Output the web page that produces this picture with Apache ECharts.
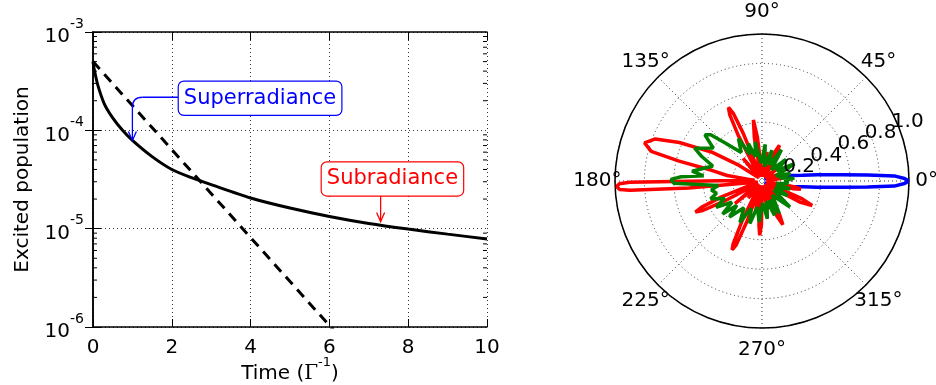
<!DOCTYPE html>
<html lang="en">
<head>
<meta charset="UTF-8">
<title>Excited population / radiation pattern</title>
<script src="https://cdn.jsdelivr.net/npm/echarts@6/dist/echarts.min.js"></script>
<style>
  html, body { margin: 0; padding: 0; background: #fff; }
  #main { width: 936px; height: 385px; }
</style>
</head>
<body>
<div id="main"></div>
<script>
var FONT = 'DejaVu Sans';

// left panel: decay of the excited population (time in 1/Gamma)
var timeVals = [0, 0.03, 0.12, 0.29, 0.5, 0.75, 1.0, 1.5, 2, 2.5, 3, 4, 5, 6, 7, 8, 9, 10];
var popVals  = [5e-4, 4.2e-4, 2.9e-4, 1.85e-4, 1.34e-4, 1.0e-4, 7.9e-5, 5.4e-5, 4.0e-5,
                3.3e-5, 2.8e-5, 2.05e-5, 1.62e-5, 1.33e-5, 1.13e-5, 9.9e-6, 8.8e-6, 7.85e-6];
var singleTime = [0, 6.3];
var singlePop  = [5e-4, 7.6e-7];
var minorTickVals = [2e-6, 3e-6, 4e-6, 5e-6, 6e-6, 7e-6, 8e-6, 9e-6,
                     2e-5, 3e-5, 4e-5, 5e-5, 6e-5, 7e-5, 8e-5, 9e-5,
                     2e-4, 3e-4, 4e-4, 5e-4, 6e-4, 7e-4, 8e-4, 9e-4];

// annotations: [label, box centre (t, pop), arrow tip (t, pop)]
var superNote = ['Superradiance', [4.24, 2.17e-4], [1.0, 7.9e-5]];
var subNote   = ['Subradiance', [7.6, 3.28e-5], [7.3, 1.18e-5]];

// right panel: emission patterns, [radius, angle in degrees]
var bluePattern = [[0.02, 320], [0.05, 335], [0.12, 345], [0.2, 349], [0.28, 352], [0.38, 353.5], [0.55, 355.5],
                   [0.72, 356.7], [0.9, 357.8], [0.97, 359], [1.0, 360], [0.97, 1], [0.9, 2.2], [0.72, 3.3], [0.55, 4.5],
                   [0.38, 6.5], [0.28, 8], [0.2, 11], [0.12, 15], [0.05, 25], [0.02, 40]];
var redPattern = [[0.08, 0], [0.03, 4], [0.15, 8], [0.03, 12], [0.03, 17], [0.14, 22], [0.03, 27],
                  [0.03, 35], [0.13, 40], [0.03, 45], [0.03, 57], [0.22, 62], [0.27, 64], [0.22, 66], [0.03, 71],
                  [0.03, 75], [0.2, 80], [0.03, 85], [0.03, 92], [0.3, 96], [0.42, 98], [0.3, 100], [0.03, 104],
                  [0.03, 107], [0.35, 111.5], [0.5, 113], [0.55, 114.5], [0.5, 116], [0.35, 117.5], [0.03, 122],
                  [0.03, 125], [0.2, 130], [0.03, 135],
                  [0.05, 140], [0.2, 146], [0.39, 150], [0.62, 155], [0.78, 158.5], [0.84, 162], [0.78, 165],
                  [0.58, 166.5], [0.35, 168], [0.24, 171], [0.05, 175],
                  [0.05, 178], [0.5, 180.2], [0.9, 180.5], [0.97, 181.1], [0.99, 182.2], [0.97, 183.4],
                  [0.9, 184], [0.5, 185.5], [0.05, 189],
                  [0.03, 196], [0.3, 201.5], [0.45, 203.5], [0.5, 205], [0.45, 206.5], [0.3, 208], [0.03, 213],
                  [0.03, 216], [0.24, 220], [0.03, 225], [0.15, 231], [0.03, 235],
                  [0.03, 239], [0.3, 243.5], [0.47, 245.3], [0.51, 246.5], [0.47, 248], [0.3, 249.5], [0.03, 254],
                  [0.22, 258], [0.03, 262], [0.3, 266], [0.37, 267.6], [0.3, 269.2], [0.03, 274],
                  [0.2, 281], [0.03, 286], [0.26, 293], [0.33, 295.5], [0.26, 297.5], [0.03, 303],
                  [0.16, 311], [0.03, 320], [0.3, 331], [0.38, 334], [0.3, 336], [0.03, 340],
                  [0.22, 346], [0.27, 348], [0.22, 350], [0.03, 354], [0.08, 360]];
var greenPattern = [[0.15, 0], [0.22, 5], [0.12, 10], [0.2, 15], [0.1, 20], [0.25, 28], [0.12, 35], [0.22, 42],
                    [0.1, 50], [0.25, 58], [0.12, 65], [0.22, 72], [0.1, 80], [0.25, 85], [0.12, 92], [0.27, 100],
                    [0.17, 105], [0.27, 110], [0.2, 115], [0.33, 119], [0.24, 126], [0.36, 134], [0.47, 138],
                    [0.5, 141], [0.4, 146], [0.51, 154], [0.44, 158], [0.35, 163], [0.48, 172], [0.4, 175],
                    [0.55, 177], [0.62, 179], [0.6, 181.5], [0.3, 186], [0.35, 190], [0.32, 195],
                    [0.37, 199], [0.28, 205], [0.36, 210], [0.25, 215], [0.35, 220], [0.24, 224], [0.33, 228],
                    [0.22, 236], [0.32, 242], [0.2, 248], [0.3, 254], [0.18, 260], [0.28, 266], [0.15, 272],
                    [0.26, 278], [0.14, 284], [0.25, 290], [0.14, 294], [0.25, 298], [0.12, 306], [0.26, 317],
                    [0.1, 322], [0.2, 330], [0.1, 337], [0.2, 344], [0.1, 350], [0.18, 355], [0.15, 360]];
var radiusLabels = [0.2, 0.4, 0.6, 0.8, 1.0];
var angleLabels = [0, 45, 90, 135, 180, 225, 270, 315];

var chart = echarts.init(document.getElementById('main'));

function pairs(xs, ys) {
    return xs.map(function (x, i) { return [x, ys[i]]; });
}

var gridLine = { show: true, lineStyle: { color: '#333', width: 1, type: [1, 3] } };
var blackLine = { lineStyle: { color: '#000', width: 1.5 } };
var inTick = { inside: true, length: 8, lineStyle: { color: '#000' } };

chart.setOption({
    animation: false,
    grid: { left: 93, right: 449, top: 32, bottom: 58, outerBoundsMode: 'none', containLabel: false },
    xAxis: [{
        type: 'value', min: 0, max: 10, interval: 2, position: 'bottom',
        axisLine: blackLine, axisTick: inTick,
        axisLabel: { color: '#000', fontFamily: FONT, fontSize: 20, margin: 11 },
        splitLine: gridLine,
        name: '{t|Time (}{g|Γ}{s|-1}{t|)}', nameLocation: 'middle', nameGap: 29, nameMoveOverlap: false,
        nameTextStyle: {
            color: '#000', fontFamily: FONT, fontSize: 20,
            rich: {
                t: { fontFamily: FONT, fontSize: 20, color: '#000', lineHeight: 28, verticalAlign: 'bottom' },
                g: { fontFamily: 'DejaVu Serif', fontSize: 20, color: '#000', lineHeight: 28, verticalAlign: 'bottom' },
                s: { fontFamily: FONT, fontSize: 13, color: '#000', lineHeight: 14, verticalAlign: 'top' }
            }
        }
    }, {
        type: 'value', min: 0, max: 10, interval: 2, position: 'top',
        axisLine: blackLine, axisTick: inTick,
        axisLabel: { show: false }, splitLine: { show: false }
    }],
    yAxis: [{
        type: 'log', logBase: 10, min: 1e-6, max: 1e-3, position: 'left',
        axisLine: blackLine, axisTick: inTick,
        axisLabel: {
            margin: 9,
            formatter: function (v) {
                return '{b|10}{s|' + Math.round(Math.log10(v)) + '}';
            },
            rich: {
                b: { fontFamily: FONT, fontSize: 20, color: '#000', lineHeight: 30, verticalAlign: 'bottom' },
                s: { fontFamily: FONT, fontSize: 14, color: '#000', lineHeight: 16, verticalAlign: 'top' }
            }
        },
        splitLine: gridLine,
        name: 'Excited population', nameLocation: 'middle', nameGap: 60, nameRotate: 90, nameMoveOverlap: false,
        nameTextStyle: { color: '#000', fontFamily: FONT, fontSize: 20 }
    }, {
        type: 'log', logBase: 10, min: 1e-6, max: 1e-3, position: 'right',
        axisLine: blackLine, axisTick: inTick,
        axisLabel: { show: false }, splitLine: { show: false }
    }],
    polar: { center: [762, 181], radius: 147 },
    angleAxis: {
        type: 'value', min: 0, max: 360, interval: 45, startAngle: 0, clockwise: false,
        axisLine: blackLine,
        axisTick: { show: false },
        axisLabel: { show: false },
        splitLine: gridLine
    },
    radiusAxis: {
        type: 'value', min: 0, max: 1, interval: 0.2,
        axisLine: { show: false }, axisTick: { show: false }, axisLabel: { show: false },
        splitLine: gridLine
    },
    series: [{
        type: 'line', xAxisIndex: 0, yAxisIndex: 0, data: pairs(timeVals, popVals),
        showSymbol: false, smooth: 0.25, lineStyle: { color: '#000', width: 3 }
    }, {
        type: 'line', xAxisIndex: 0, yAxisIndex: 0, data: pairs(singleTime, singlePop),
        showSymbol: false, clip: true, lineStyle: { color: '#000', width: 3, type: [10, 7] }
    }, {
        type: 'line', coordinateSystem: 'polar', data: bluePattern,
        showSymbol: false, lineStyle: { color: '#0000ff', width: 3.5 }
    }, {
        type: 'line', coordinateSystem: 'polar', data: redPattern,
        showSymbol: false, lineStyle: { color: '#ff0000', width: 3.5 }
    }, {
        type: 'line', coordinateSystem: 'polar', data: greenPattern,
        showSymbol: false, lineStyle: { color: '#008000', width: 3.5 }
    }]
});

// extra pieces placed through the chart's own scales
function toGrid(p) { return chart.convertToPixel({ seriesIndex: 0 }, p); }
function toPolar(p) { return chart.convertToPixel({ seriesIndex: 2 }, p); }

var gfx = [];

// log minor ticks on both sides
minorTickVals.forEach(function (v) {
    var a = toGrid([0, v]), b = toGrid([10, v]);
    gfx.push({ type: 'line', z: 50, shape: { x1: a[0], y1: a[1], x2: a[0] + 4, y2: a[1] }, style: { stroke: '#000', lineWidth: 1 } });
    gfx.push({ type: 'line', z: 50, shape: { x1: b[0] - 4, y1: b[1], x2: b[0], y2: b[1] }, style: { stroke: '#000', lineWidth: 1 } });
});

function noteBox(note, color) {
    var c = toGrid(note[1]);
    return {
        type: 'text', z: 120, x: c[0], y: c[1] + 1,
        style: {
            text: note[0], fill: color, fontFamily: FONT, fontSize: 21, lineHeight: 25,
            align: 'center', verticalAlign: 'middle',
            backgroundColor: '#fff', borderColor: color, borderWidth: 1.2, borderRadius: 5,
            padding: [4, 5, 4, 5]
        }
    };
}

function arrowHead(t, color) {
    return {
        type: 'polyline', z: 110,
        shape: { points: [[t[0] - 4, t[1] - 9], [t[0], t[1]], [t[0] + 4, t[1] - 9]] },
        style: { stroke: color, lineWidth: 1.3, fill: null }
    };
}

// Superradiance: bent arrow out of the left side of the box
(function () {
    var c = toGrid(superNote[1]), t = toGrid(superNote[2]);
    var lx = c[0] - 80;
    var stroke = { stroke: '#0000ff', lineWidth: 1.3, fill: null };
    gfx.push({ type: 'line', z: 110, shape: { x1: lx, y1: c[1], x2: t[0] + 10, y2: c[1] }, style: stroke });
    gfx.push({ type: 'bezierCurve', z: 110,
               shape: { x1: t[0] + 10, y1: c[1], cpx1: t[0], cpy1: c[1], x2: t[0], y2: c[1] + 10 }, style: stroke });
    gfx.push({ type: 'line', z: 110, shape: { x1: t[0], y1: c[1] + 10, x2: t[0], y2: t[1] }, style: stroke });
    gfx.push(arrowHead(t, '#0000ff'));
    gfx.push(noteBox(superNote, '#0000ff'));
})();

// Subradiance: straight arrow down from the box
(function () {
    var c = toGrid(subNote[1]), t = toGrid(subNote[2]);
    gfx.push({ type: 'line', z: 110, shape: { x1: t[0], y1: c[1] + 14, x2: t[0], y2: t[1] },
               style: { stroke: '#ff0000', lineWidth: 1.3 } });
    gfx.push(arrowHead(t, '#ff0000'));
    gfx.push(noteBox(subNote, '#ff0000'));
})();

// radial tick labels along 22.5 degrees
radiusLabels.forEach(function (r) {
    var p = toPolar([r, 22.5]);
    gfx.push({
        type: 'text', z: 130, x: p[0] - 6, y: p[1] - 3,
        style: { text: r.toFixed(1), fill: '#000', fontFamily: FONT, fontSize: 20, align: 'left', verticalAlign: 'middle' }
    });
});

// angle labels centred just outside the circle
var origin = toPolar([0, 0]);
angleLabels.forEach(function (a) {
    var p = toPolar([1, a]);
    gfx.push({
        type: 'text', z: 130,
        x: origin[0] + (p[0] - origin[0]) * 1.12,
        y: origin[1] + (p[1] - origin[1]) * 1.15,
        style: { text: a + '°', fill: '#000', fontFamily: FONT, fontSize: 20, align: 'center', verticalAlign: 'middle' }
    });
});

chart.setOption({ graphic: gfx });
</script>
</body>
</html>
